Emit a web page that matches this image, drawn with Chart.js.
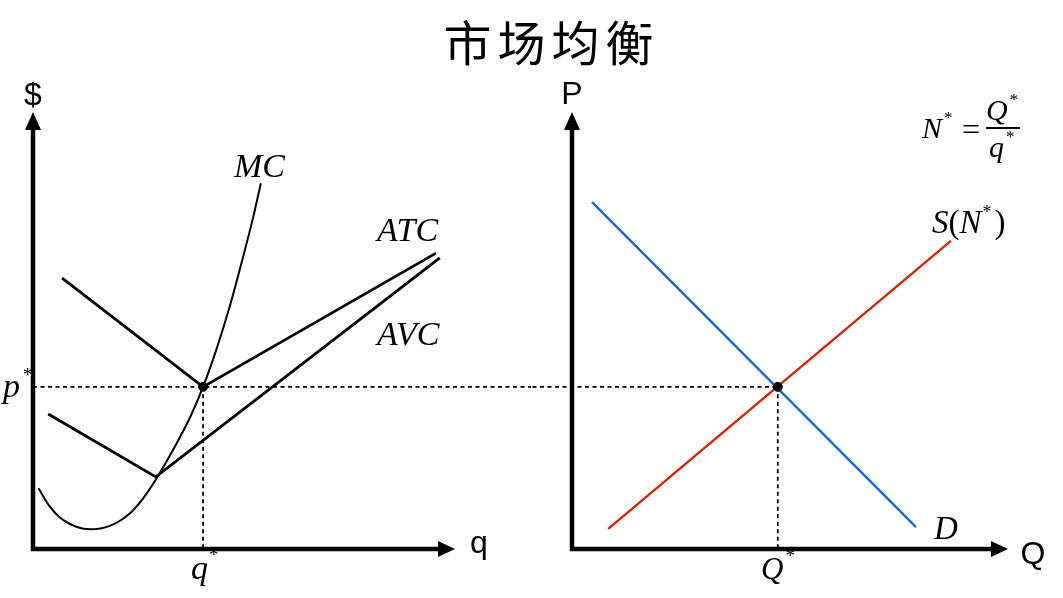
<!DOCTYPE html>
<html><head><meta charset="utf-8">
<script src="https://cdn.jsdelivr.net/npm/chart.js@4"></script>
<style>
html,body{margin:0;padding:0;background:#fff;}
#wrap{position:relative;width:1063px;height:598px;overflow:hidden;background:#fff;}
#title{position:absolute;left:20px;top:0;width:1063px;height:80px;line-height:80px;text-align:center;font-family:"Noto Sans CJK SC";font-size:48px;letter-spacing:6px;color:#000;z-index:2;}
.pane{position:absolute;top:0;height:598px;}
</style></head>
<body><div id="wrap">
<div class="pane" style="left:0;width:531px"><canvas id="left" width="531" height="598"></canvas></div>
<div class="pane" style="left:531px;width:532px"><canvas id="right" width="532" height="598"></canvas></div>
<div id="title">市场均衡</div>
</div>
<script>
// ---- data ----
const qStar = 4.03, pStar = 3.71, QStar = 4.72;
const mcQ    = [0.13,0.40,0.72,1.35,1.82,2.30,2.61,2.93,3.32,3.72,4.03,4.35,4.67,4.98,5.22,5.40];
const mcCost = [1.39,0.97,0.66,0.45,0.53,0.82,1.16,1.62,2.27,3.01,3.71,4.58,5.58,6.69,7.60,8.37];
const atcQ    = [0.69,4.03,9.55];
const atcCost = [6.20,3.71,6.77];
const avcQ    = [0.36,2.91,9.64];
const avcCost = [3.09,1.65,6.66];
const demandQ = [0.46,7.89];
const demandP = [7.94,0.50];
const supplyQ = [0.83,8.69];
const supplyP = [0.46,7.05];

const pts = (xs, ys) => xs.map((x,i)=>({x, y: ys[i]}));
const IT = s => `italic ${s}px "Liberation Serif"`;
const RM = s => `${s}px "Liberation Serif"`;
const SANS = s => `${s}px "Liberation Sans"`;

function seq(ctx, x, y, parts){
  ctx.textAlign='left'; ctx.textBaseline='alphabetic';
  for(const p of parts){
    ctx.font = p.f;
    x += (p.dx||0);
    ctx.fillText(p.t, x, y + (p.dy||0));
    x += ctx.measureText(p.t).width;
  }
}

function drawAxes(chart){
  const {ctx, chartArea:{left,right,top,bottom}} = chart;
  ctx.save();
  ctx.strokeStyle='#000'; ctx.fillStyle='#000'; ctx.lineWidth=4.5; ctx.setLineDash([]);
  ctx.beginPath();
  ctx.moveTo(left, top+14); ctx.lineTo(left, bottom); ctx.lineTo(right-14, bottom);
  ctx.lineJoin='miter'; ctx.stroke();
  ctx.beginPath(); ctx.moveTo(left, top); ctx.lineTo(left-8, top+18); ctx.lineTo(left+8, top+18); ctx.closePath(); ctx.fill();
  ctx.beginPath(); ctx.moveTo(right, bottom); ctx.lineTo(right-17, bottom-8); ctx.lineTo(right-17, bottom+8); ctx.closePath(); ctx.fill();
  ctx.restore();
}

const baseOpts = (pad) => ({
  responsive:false, animation:false,
  layout:{padding:pad},
  plugins:{legend:{display:false}, tooltip:{enabled:false}, title:{display:false}},
  scales:{
    x:{type:'linear', min:0, max:10, display:false},
    y:{type:'linear', min:0, max:10, display:false}
  },
  elements:{point:{radius:0}}
});

function dashed(ctx){ ctx.strokeStyle='#000'; ctx.lineWidth=1.8; ctx.setLineDash([4,3.5]); }

// ---- left: firm ----
new Chart(document.getElementById('left'), {
  type:'line',
  data:{datasets:[
    {label:'eq', data:[{x:qStar,y:pStar}], showLine:false, pointRadius:4.5, pointBackgroundColor:'#000', pointBorderColor:'#000', order:0},
    {label:'MC', data:pts(mcQ,mcCost), borderColor:'#000', borderWidth:2, cubicInterpolationMode:'monotone', pointRadius:0, fill:false, order:1},
    {label:'ATC', data:pts(atcQ,atcCost), borderColor:'#000', borderWidth:2.8, tension:0, pointRadius:0, fill:false, order:1},
    {label:'AVC', data:pts(avcQ,avcCost), borderColor:'#000', borderWidth:2.8, tension:0, pointRadius:0, fill:false, order:1}
  ]},
  options: baseOpts({left:33, right:76, top:112, bottom:49}),
  plugins:[{
    id:'leftDeco',
    beforeDatasetsDraw(chart){
      const {ctx, scales:{x,y}} = chart;
      const px = x.getPixelForValue(qStar), py = y.getPixelForValue(pStar);
      ctx.save(); dashed(ctx);
      ctx.beginPath(); ctx.moveTo(x.getPixelForValue(0), py); ctx.lineTo(chart.width, py); ctx.stroke();
      ctx.beginPath(); ctx.moveTo(px, py); ctx.lineTo(px, y.getPixelForValue(0)); ctx.stroke();
      ctx.restore();
    },
    afterDatasetsDraw(chart){
      const {ctx} = chart;
      drawAxes(chart);
      ctx.save(); ctx.fillStyle='#000';
      ctx.font=SANS(32); ctx.textAlign='center'; ctx.textBaseline='alphabetic';
      ctx.fillText('$', 33, 105);
      ctx.fillText('q', 479, 553);
      seq(ctx, 234, 177, [{t:'MC', f:IT(34)}]);
      seq(ctx, 377, 241, [{t:'ATC', f:IT(34)}]);
      seq(ctx, 377, 345, [{t:'AVC', f:IT(34)}]);
      seq(ctx, 3, 397, [{t:'p', f:IT(34)}, {t:'*', f:RM(19), dx:3, dy:-16}]);
      seq(ctx, 191, 579, [{t:'q', f:IT(34)}, {t:'*', f:RM(19), dx:1, dy:-18}]);
      ctx.restore();
    }
  }]
});

// ---- right: market ----
new Chart(document.getElementById('right'), {
  type:'line',
  data:{datasets:[
    {label:'eq', data:[{x:QStar,y:pStar}], showLine:false, pointRadius:4.5, pointBackgroundColor:'#000', pointBorderColor:'#000', order:0},
    {label:'D', data:pts(demandQ,demandP), borderColor:'#1a6cc4', borderWidth:2.5, tension:0, pointRadius:0, fill:false, order:1},
    {label:'S', data:pts(supplyQ,supplyP), borderColor:'#cc2a08', borderWidth:2.5, tension:0, pointRadius:0, fill:false, order:1}
  ]},
  options: baseOpts({left:41, right:55, top:112, bottom:49}),
  plugins:[{
    id:'rightDeco',
    beforeDatasetsDraw(chart){
      const {ctx, scales:{x,y}} = chart;
      const px = x.getPixelForValue(QStar), py = y.getPixelForValue(pStar);
      ctx.save(); dashed(ctx);
      ctx.lineDashOffset = 531 % 7.5;
      ctx.beginPath(); ctx.moveTo(0, py); ctx.lineTo(px, py); ctx.stroke();
      ctx.lineDashOffset = 0;
      ctx.beginPath(); ctx.moveTo(px, py); ctx.lineTo(px, y.getPixelForValue(0)); ctx.stroke();
      ctx.restore();
    },
    afterDatasetsDraw(chart){
      const {ctx} = chart;
      drawAxes(chart);
      ctx.save(); ctx.fillStyle='#000';
      ctx.font=SANS(32); ctx.textAlign='center'; ctx.textBaseline='alphabetic';
      ctx.fillText('P', 41, 104);
      ctx.fillText('Q', 502, 564);
      seq(ctx, 403, 539, [{t:'D', f:IT(33)}]);
      seq(ctx, 401, 233, [{t:'S', f:IT(33)}, {t:'(', f:RM(33)}, {t:'N', f:IT(33)}, {t:'*', f:RM(18), dx:1, dy:-15}, {t:')', f:RM(33), dx:3}]);
      seq(ctx, 230, 579, [{t:'Q', f:IT(31)}, {t:'*', f:RM(19), dx:2, dy:-17}]);
      // formula N* = Q*/q*
      seq(ctx, 391, 138, [{t:'N', f:IT(30)}, {t:'*', f:RM(17), dx:2, dy:-15}]);
      ctx.font=RM(32); ctx.textAlign='center';
      ctx.fillText('=', 440, 140);
      ctx.fillRect(455, 127, 34, 2);
      seq(ctx, 455, 120, [{t:'Q', f:IT(30)}, {t:'*', f:RM(17), dx:2, dy:-15}]);
      seq(ctx, 458, 157, [{t:'q', f:IT(30)}, {t:'*', f:RM(17), dx:2, dy:-15}]);
      ctx.restore();
    }
  }]
});
</script>
</body></html>
